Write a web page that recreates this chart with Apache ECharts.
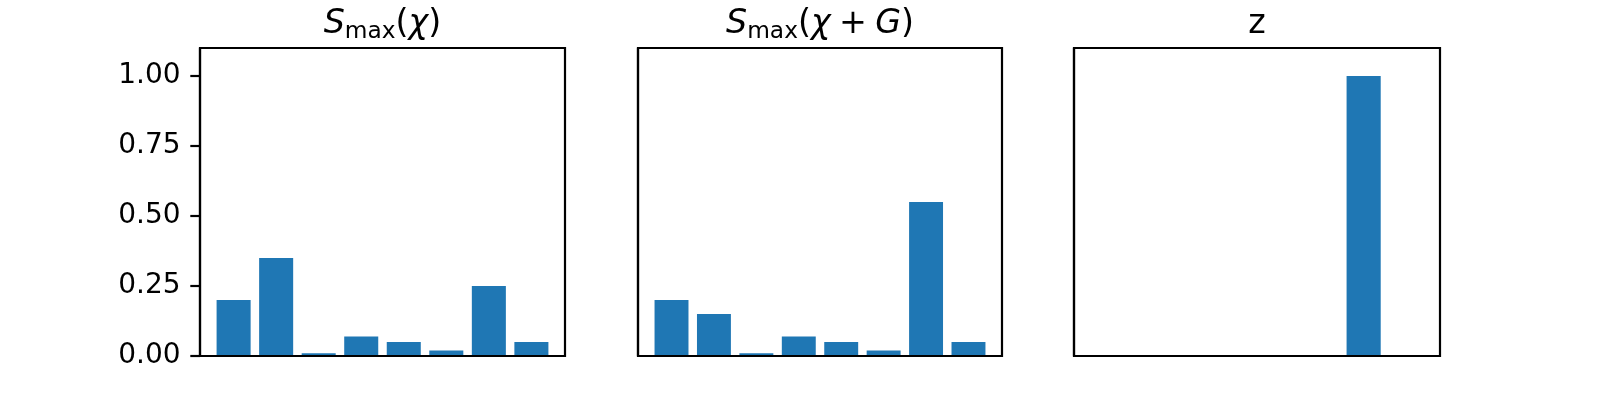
<!DOCTYPE html>
<html>
<head>
<meta charset="utf-8">
<script src="https://cdn.jsdelivr.net/npm/echarts@6/dist/echarts.min.js"></script>
<style>
html,body{margin:0;padding:0;background:#fff;}
#chart{width:1600px;height:400px;}
</style>
</head>
<body>
<div id="chart"></div>
<script>
// ---- data ----
const categories = [0, 1, 2, 3, 4, 5, 6, 7];
const smaxChi = [0.20, 0.35, 0.01, 0.07, 0.05, 0.02, 0.25, 0.05];
const smaxChiG = [0.20, 0.15, 0.01, 0.07, 0.05, 0.02, 0.55, 0.05];
const zVals = [0, 0, 0, 0, 0, 0, 1.00, 0];
const yTicks = [0, 0.25, 0.5, 0.75, 1.0];
const yMin = 0, yMax = 1.1;

// ---- layout ----
const panels = [
  {left: 200, width: 365, values: smaxChi, title: '{i|S}{sub|max}{n|(}{i|χ}{n|)}', showY: true},
  {left: 638, width: 364, values: smaxChiG, title: '{i|S}{sub|max}{n|(}{i|χ}{n|\u2005+\u2005}{i|G}{n|)}', showY: false},
  {left: 1074, width: 366, values: zVals, title: '{n|z}', showY: false}
];
const gridTop = 48, gridHeight = 308;
const barW = 0.8, marginFrac = 0.05;
const span = (categories.length - 1) + barW;
const xMin = -barW / 2 - marginFrac * span;
const xMax = categories.length - 1 + barW / 2 + marginFrac * span;

const FONT = 'DejaVu Sans';
const lw = 2.2;
const blue = '#1f77b4';

const chart = echarts.init(document.getElementById('chart'), null, {renderer: 'canvas'});

const grids = [], xAxes = [], yAxes = [], series = [], graphics = [];
panels.forEach((p, i) => {
  grids.push({left: p.left, top: gridTop, width: p.width, height: gridHeight,
    show: true, borderColor: '#000', borderWidth: lw, backgroundColor: 'transparent', containLabel: false});
  xAxes.push({type: 'value', gridIndex: i, min: xMin, max: xMax, position: 'bottom',
    axisLine: {show: true, onZero: false, lineStyle: {color: '#000', width: lw}}, z: 5,
    axisTick: {show: false}, axisLabel: {show: false}, splitLine: {show: false}});
  yAxes.push({type: 'value', gridIndex: i, min: yMin, max: yMax, position: 'left',
    axisLine: {show: true, onZero: false, lineStyle: {color: '#000', width: lw}}, z: 5,
    axisTick: {show: p.showY, inside: false, length: 9.7, lineStyle: {color: '#000', width: lw}, customValues: yTicks},
    axisLabel: {show: p.showY, inside: false, customValues: yTicks, margin: 19.4, fontFamily: FONT, fontSize: 28, color: '#000',
      formatter: v => v.toFixed(2)},
    splitLine: {show: false}});
  const rawPx = p.width / (xMax - xMin) * barW;
  series.push({type: 'bar', xAxisIndex: i, yAxisIndex: i,
    data: categories.map((c, k) => [c, p.values[k]]),
    barWidth: rawPx, itemStyle: {color: blue}, silent: true, animation: false});
  graphics.push({type: 'text', x: p.left + p.width / 2, y: 44,
    style: {text: p.title, align: 'center', verticalAlign: 'bottom',
      rich: {
        i: {fontFamily: FONT, fontStyle: 'italic', fontSize: 33.3, lineHeight: 40, fill: '#000'},
        n: {fontFamily: FONT, fontSize: 33.3, lineHeight: 40, fill: '#000'},
        sub: {fontFamily: FONT, fontSize: 23.3, lineHeight: 40, fill: '#000', padding: [16, 0, 0, 0]}
      }}});
});

chart.setOption({
  animation: false,
  backgroundColor: '#fff',
  grid: grids,
  xAxis: xAxes,
  yAxis: yAxes,
  series: series,
  graphic: graphics
});
</script>
</body>
</html>
